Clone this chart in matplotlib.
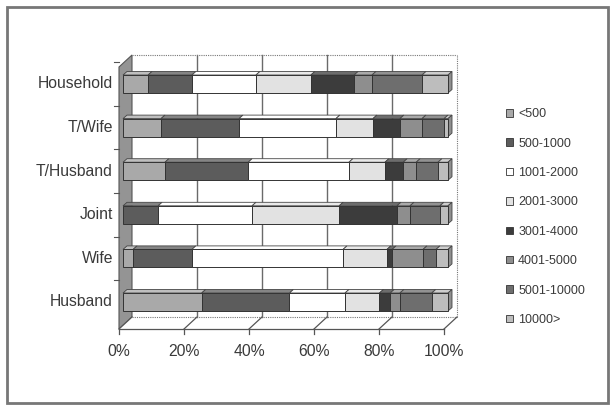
import matplotlib
matplotlib.use("Agg")
import matplotlib.pyplot as plt
from matplotlib.patches import Polygon, Patch, Rectangle

plt.rcParams['font.family'] = ['Liberation Sans', 'DejaVu Sans']

# Data (percent shares per income band)
rows = ['Husband', 'Wife', 'Joint', 'T/Husband', 'T/Wife', 'Household']
bands = ['<500', '500-1000', '1001-2000', '2001-3000',
         '3001-4000', '4001-5000', '5001-10000', '10000>']
shares = {
    'Husband':   [24.2, 27.0, 17.1, 10.6, 3.3, 3.0, 9.8, 5.0],
    'Wife':      [3.1, 18.1, 46.5, 13.5, 1.6, 9.5, 4.0, 3.7],
    'Joint':     [0.0, 10.8, 28.9, 26.8, 17.8, 4.0, 9.2, 2.5],
    'T/Husband': [12.9, 25.6, 31.0, 11.1, 5.6, 4.0, 6.7, 3.1],
    'T/Wife':    [11.7, 24.0, 29.8, 11.4, 8.3, 6.8, 6.8, 1.2],
    'Household': [7.7, 13.5, 19.7, 16.9, 13.3, 5.5, 15.4, 8.0],
}
xticks = [0, 20, 40, 60, 80, 100]
xticklabels = ['0%', '20%', '40%', '60%', '80%', '100%']

# grey fills for the bands (front, top, side)
fills = ['#a9a9a9', '#5c5c5c', '#ffffff', '#e2e2e2',
         '#3c3c3c', '#8e8e8e', '#6e6e6e', '#bdbdbd']

def shade(c, f):
    r, g, b = matplotlib.colors.to_rgb(c)
    if f > 1:
        return (r + (1 - r) * (f - 1), g + (1 - g) * (f - 1), b + (1 - b) * (f - 1))
    return (r * f, g * f, b * f)

TXT = '#3a3a3a'
S = 3.25    # px per percent
R = 43.6    # px per row
BAR_H = 18 / R
BDX, BDY = 4 / S, 3.5 / R            # bar depth
WBX, WBY = 9 / S, -15 / R            # back wall / floor back offset
WFX, WFY = -4 / S, -27 / R           # floor front offset
TOP = 247 / R                        # top of back wall

fig = plt.figure(figsize=(6.13, 4.09), dpi=100)
ax = fig.add_axes([100 / 613, (409 - 340) / 409, 370 / 613, 300 / 409])
ax.set_xlim(-23 / S, 347 / S)
ax.set_ylim(-38 / R, 262 / R)
ax.axis('off')

# left wall
ax.add_patch(Polygon([(WFX, WFY), (WBX, WBY), (WBX, TOP), (WFX, TOP - 12 / R)],
                     closed=True, facecolor='#949494', edgecolor='#555555', lw=0.8, zorder=1))
# floor
ax.add_patch(Polygon([(WFX, WFY), (100 + WFX, WFY), (100 + WBX, WBY), (WBX, WBY)],
                     closed=True, facecolor='white', edgecolor='none', zorder=1))
ax.plot([WBX, 100 + WBX], [WBY, WBY], color='#777777', lw=0.8, ls=(0, (1, 1)), zorder=1)
ax.plot([WFX, 100 + WFX], [WFY, WFY], color='#555555', lw=0.9, zorder=1)
for t in xticks:
    ax.plot([t + WFX, t + WBX], [WFY, WBY], color='#555555', lw=0.9, zorder=1)
    ax.plot([t + WFX, t + WFX], [WFY, WFY - 5 / R], color='#555555', lw=0.9, zorder=1)
    ax.text(t + WFX, -50 / R, xticklabels[xticks.index(t)], ha='center', va='center',
            fontsize=11.3, color=TXT)

# back wall grid
for t in xticks[1:-1]:
    ax.plot([t + WBX, t + WBX], [WBY, TOP], color='#6a6a6a', lw=1.0, zorder=1)
ax.plot([100 + WBX, 100 + WBX], [WBY, TOP], color='#777777', lw=0.8, ls=(0, (1, 1)), zorder=1)
ax.plot([WBX, 100 + WBX], [TOP, TOP], color='#777777', lw=0.8, ls=(0, (1, 1)), zorder=1)

# row ticks on the left wall
for i in range(len(rows)):
    ax.plot([WFX - 5 / S, WFX], [i + 0.5, i + 0.5], color='#555555', lw=0.8, zorder=1)

# bars with a little depth
for i, name in enumerate(rows):
    left = 0
    y0 = i - BAR_H / 2
    y1 = i + BAR_H / 2
    for j, w in enumerate(shares[name]):
        if w <= 0:
            continue
        c = fills[j]
        ax.add_patch(Polygon([(left, y1), (left + w, y1), (left + w + BDX, y1 + BDY), (left + BDX, y1 + BDY)],
                             closed=True, facecolor=shade(c, 1.25), edgecolor='#444444', lw=0.6, zorder=3))
        ax.barh(i, w, left=left, height=BAR_H, color=c, edgecolor='#333333', lw=0.7, zorder=4)
        left += w
    c = fills[[k for k, w in enumerate(shares[name]) if w > 0][-1]]
    ax.add_patch(Polygon([(left, y0), (left + BDX, y0 + BDY), (left + BDX, y1 + BDY), (left, y1)],
                         closed=True, facecolor=shade(c, 0.75), edgecolor='#444444', lw=0.6, zorder=3))
    ax.text(-10 / S, i, name, ha='right', va='center', fontsize=11.3, color=TXT)

handles = [Patch(facecolor=fills[j], edgecolor='#333333', lw=0.6) for j in range(len(bands))]
fig.legend(handles, bands, loc='upper left', bbox_to_anchor=(495 / 613, 1 - 97 / 409),
           frameon=False, fontsize=9, handlelength=0.55, handleheight=0.55,
           handletextpad=0.4, labelspacing=1.39, labelcolor=TXT)

# outer frame
fig.patches.append(Rectangle((7 / 613, 6 / 409), 601 / 613, 396 / 409, transform=fig.transFigure,
                             fill=False, edgecolor='#777777', lw=2))

fig.savefig('out.png', dpi=100)
